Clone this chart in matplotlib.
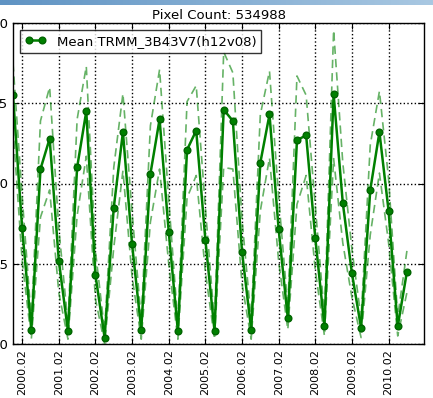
import numpy as np
import matplotlib
matplotlib.use("Agg")
import matplotlib.pyplot as plt
from matplotlib.colors import LinearSegmentedColormap

# Quarterly mean precipitation (TRMM 3B43 V7, tile h12v08), starting 1999.11
start_year, start_month = 1999, 11
mean_vals = [1.55, 0.72, 0.09, 1.09, 1.28, 0.52, 0.08, 1.10, 1.45, 0.43,
             0.04, 0.85, 1.32, 0.62, 0.09, 1.06, 1.40, 0.70, 0.08, 1.21,
             1.33, 0.65, 0.08, 1.46, 1.39, 0.575, 0.09, 1.13, 1.43, 0.715,
             0.16, 1.27, 1.30, 0.66, 0.11, 1.555, 0.88, 0.44, 0.10, 0.96,
             1.32, 0.83, 0.11, 0.45]
# Standard deviation across pixels for each period
std_vals = [0.20, 0.20, 0.06, 0.30, 0.32, 0.20, 0.05, 0.30, 0.28, 0.15,
            0.04, 0.25, 0.24, 0.20, 0.06, 0.30, 0.31, 0.20, 0.05, 0.30,
            0.28, 0.20, 0.05, 0.36, 0.30, 0.20, 0.06, 0.30, 0.27, 0.20,
            0.07, 0.40, 0.25, 0.20, 0.06, 0.40, 0.25, 0.15, 0.06, 0.28,
            0.255, 0.20, 0.06, 0.13]
tick_labels = ['2000.02', '2001.02', '2002.02', '2003.02', '2004.02', '2005.02',
               '2006.02', '2007.02', '2008.02', '2009.02', '2010.02']
title_text = 'Pixel Count: 534988'
series_label = 'Mean TRMM_3B43V7(h12v08)'

mean = np.array(mean_vals)
std = np.array(std_vals)
months = start_month - 1 + 3 * np.arange(len(mean))
t = start_year + months / 12.0
tick_pos = [int(s[:4]) + (int(s[5:]) - 1) / 12.0 for s in tick_labels]

plt.rcParams['font.family'] = ['DejaVu Sans']
fig = plt.figure(figsize=(4.33, 3.98), dpi=100)
fig.patch.set_facecolor('white')

# thin gradient strip along the top edge
strip = fig.add_axes([0, 1 - 5 / 398, 1, 5 / 398])
grad = np.linspace(0, 1, 256)[None, :]
cmap = LinearSegmentedColormap.from_list('strip', ['#5f93c3', '#a9c8e2'])
strip.imshow(grad, aspect='auto', cmap=cmap)
strip.set_axis_off()

ax = fig.add_axes([13 / 433, 1 - 344 / 398, 411 / 433, 321 / 398])
for band in (mean + std, mean - std):
    ax.plot(t, band, color='g', alpha=0.6, lw=1.2, linestyle=(0, (5, 3)))
ax.plot(t, mean, '-o', color='g', lw=1.8, ms=4.8, mec='#006400',
        label=series_label)

ax.set_xlim(t[0], 2011.05)
ax.set_ylim(0, 2.0)
ax.set_yticks([0.0, 0.5, 1.0, 1.5, 2.0])
ax.set_xticks(tick_pos)
ax.set_xticklabels(tick_labels, rotation=90, fontsize=8)
ax.tick_params(axis='y', labelsize=9.5)
ax.tick_params(direction='in', top=True, right=True, length=4)
ax.grid(True, color='black', linestyle=':', linewidth=1.0)
for s in ax.spines.values():
    s.set_linewidth(1.0)

ax.set_title(title_text, fontsize=9.5, pad=3)
leg = ax.legend(loc='upper left', fontsize=9.5, numpoints=2, fancybox=False,
                handlelength=1.6, handletextpad=0.8, borderaxespad=0.5,
                borderpad=0.4)
leg.get_frame().set_edgecolor('black')
leg.get_frame().set_linewidth(1.0)

fig.savefig('out.png', dpi=100)
